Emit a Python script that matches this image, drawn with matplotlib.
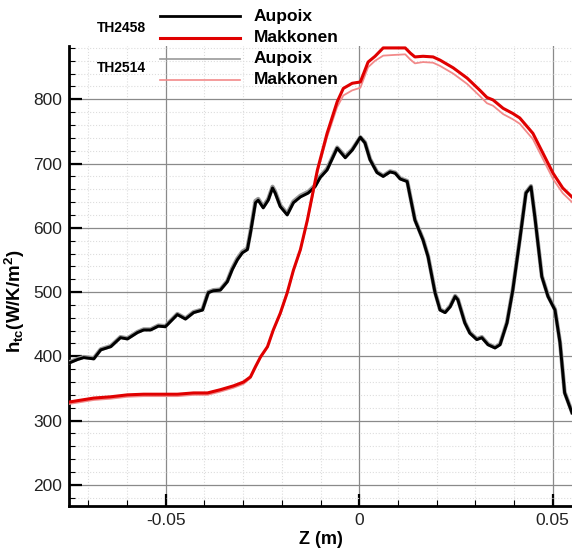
import numpy as np
import matplotlib
matplotlib.use('Agg')
import matplotlib.pyplot as plt
from matplotlib.ticker import MultipleLocator

plt.rcParams['font.family'] = ['Liberation Sans', 'DejaVu Sans']
plt.rcParams['mathtext.fontset'] = 'custom'
plt.rcParams['mathtext.rm'] = 'Liberation Sans'
plt.rcParams['mathtext.bf'] = 'Liberation Sans:bold'

# TH2458 / TH2514, Aupoix model
z_aupoix = [-0.0748, -0.0728, -0.0712, -0.0686, -0.0668, -0.0642, -0.0617, -0.0599, -0.0573, -0.0557,
            -0.0539, -0.0519, -0.0501, -0.0470, -0.0449, -0.0428, -0.0405, -0.0390, -0.0377, -0.0359,
            -0.0341, -0.0328, -0.0315, -0.0302, -0.0289, -0.0281, -0.0268, -0.0261, -0.0248, -0.0235,
            -0.0224, -0.0217, -0.0204, -0.0186, -0.0170, -0.0152, -0.0132, -0.0114, -0.0101, -0.0083,
            -0.0057, -0.0036, -0.0018, 0.0003, 0.0015, 0.0028, 0.0046, 0.0062, 0.0080, 0.0093,
            0.0106, 0.0124, 0.0144, 0.0165, 0.0178, 0.0196, 0.0209, 0.0222, 0.0235, 0.0248,
            0.0255, 0.0273, 0.0286, 0.0304, 0.0317, 0.0333, 0.0351, 0.0364, 0.0382, 0.0397,
            0.0415, 0.0431, 0.0444, 0.0454, 0.0472, 0.0488, 0.0506, 0.0519, 0.0531, 0.0550]
h_aupoix_2458 = [390, 395, 398, 396, 410, 415, 429, 427, 437, 441,
                 441, 447, 446, 465, 458, 468, 472, 499, 502, 503,
                 516, 535, 550, 561, 566, 592, 639, 643, 631, 643,
                 662, 654, 633, 620, 639, 648, 654, 664, 678, 690,
                 724, 709, 721, 741, 732, 706, 686, 680, 687, 685,
                 676, 672, 612, 581, 555, 499, 472, 468, 477, 493,
                 488, 452, 436, 426, 429, 418, 413, 418, 452, 503,
                 581, 654, 664, 617, 524, 493, 472, 421, 343, 312]
h_aupoix_2514 = [391, 396, 399, 397, 411, 416, 430, 428, 438, 442,
                 442, 448, 447, 466, 459, 469, 473, 500, 503, 504,
                 517, 537, 552, 563, 568, 594, 642, 645, 633, 645,
                 664, 656, 635, 622, 641, 650, 656, 666, 680, 692,
                 725, 711, 722, 741, 733, 707, 687, 681, 688, 686,
                 677, 673, 613, 582, 556, 500, 473, 469, 478, 494,
                 489, 453, 437, 427, 430, 419, 414, 419, 453, 504,
                 582, 655, 665, 618, 525, 494, 473, 422, 344, 313]

# TH2458 / TH2514, Makkonen model
z_makkonen = [-0.0748, -0.0686, -0.0642, -0.0599, -0.0557, -0.0498, -0.0470, -0.0428, -0.0392, -0.0359,
              -0.0325, -0.0299, -0.0281, -0.0268, -0.0255, -0.0237, -0.0222, -0.0204, -0.0186, -0.0170,
              -0.0152, -0.0134, -0.0108, -0.0083, -0.0057, -0.0041, -0.0018, 0.0003, 0.0023, 0.0041,
              0.0062, 0.0088, 0.0119, 0.0132, 0.0144, 0.0165, 0.0191, 0.0209, 0.0243, 0.0279,
              0.0312, 0.0330, 0.0346, 0.0372, 0.0397, 0.0415, 0.0449, 0.0475, 0.0501, 0.0526, 0.0550]
h_makkonen_2458 = [329, 335, 337, 340, 341, 341, 341, 343, 343, 348,
                   354, 360, 368, 384, 399, 415, 441, 467, 499, 534,
                   566, 612, 690, 747, 796, 817, 825, 827, 858, 867,
                   880, 880, 880, 872, 866, 867, 866, 861, 849, 833,
                   814, 803, 799, 786, 778, 771, 747, 716, 685, 662, 648]
h_makkonen_2514 = [326, 332, 334, 337, 338, 338, 338, 340, 340, 345,
                   351, 357, 366, 382, 398, 414, 440, 466, 498, 533,
                   565, 610, 686, 741, 788, 806, 814, 818, 850, 860,
                   868, 869, 870, 862, 856, 858, 857, 852, 840, 824,
                   805, 794, 790, 777, 769, 762, 738, 707, 676, 654, 640]

fig = plt.figure(figsize=(5.72, 5.5), dpi=100)
ax = fig.add_axes([69 / 572, 44 / 550, 503 / 572, 460 / 550])

ax.plot(z_aupoix, h_aupoix_2514, color='#999999', lw=3.0, zorder=3)
ax.plot(z_makkonen, h_makkonen_2514, color='#f28a8a', lw=1.3, zorder=3)
ax.plot(z_aupoix, h_aupoix_2458, color='black', lw=2.1, zorder=4)
ax.plot(z_makkonen, h_makkonen_2458, color='#e00000', lw=2.2, zorder=4)

ax.set_xlim(-0.075, 0.055)
ax.set_ylim(167, 883)
ax.xaxis.set_major_locator(MultipleLocator(0.05))
ax.xaxis.set_minor_locator(MultipleLocator(0.01))
ax.yaxis.set_major_locator(MultipleLocator(100))
ax.yaxis.set_minor_locator(MultipleLocator(20))
ax.set_xticks([-0.05, 0, 0.05])
ax.set_xticklabels(['-0.05', '0', '0.05'])

ax.grid(which='major', color='#8a8a8a', lw=0.9, ls='-')
ax.grid(which='minor', color='#dddddd', lw=0.8, ls=':')
ax.set_axisbelow(True)

for s in ('top', 'right'):
    ax.spines[s].set_visible(False)
for s in ('left', 'bottom'):
    ax.spines[s].set_linewidth(2.0)

ax.tick_params(which='major', direction='in', length=9, width=1.6, labelsize=12.5, pad=5,
               colors='black', labelcolor='#222222', top=False, right=False)
ax.tick_params(which='minor', direction='in', length=4, width=0.8, top=False, right=False)

ax.set_xlabel('Z (m)', fontsize=13, fontweight='bold', labelpad=2)
ax.set_ylabel(r'$\mathbf{h_{tc}(W/K/m^2)}$', fontsize=13.5)
ax.yaxis.set_label_coords(-0.084, 0.446)

# legend drawn by hand at the top left
def px(x, y):
    return x / 572, 1 - y / 550

groups = [('TH2458', 28, [('Aupoix', 16, 'black', 2.0), ('Makkonen', 37.5, '#e00000', 2.2)]),
          ('TH2514', 68, [('Aupoix', 59, '#999999', 1.2), ('Makkonen', 80, '#f28a8a', 1.2)])]
for title, ty, rows in groups:
    fig.text(*px(97, ty), title, fontsize=10, fontweight='bold', va='center', ha='left')
    for label, y, col, lw in rows:
        x0, yy = px(160, y)
        x1, _ = px(240, y)
        fig.add_artist(plt.Line2D([x0, x1], [yy, yy], color=col, lw=lw))
        fig.text(*px(254, y), label, fontsize=12.5, fontweight='bold', va='center', ha='left')

fig.savefig('out.png', dpi=100)
